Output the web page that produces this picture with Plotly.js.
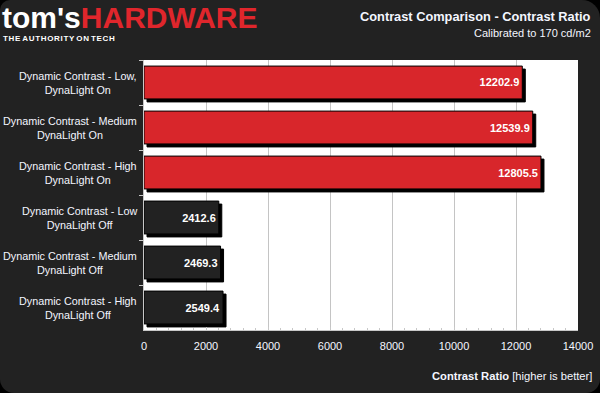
<!DOCTYPE html>
<html>
<head>
<meta charset="utf-8">
<script src="https://cdn.plot.ly/plotly-3.0.1.min.js"></script>
<style>
html,body{margin:0;padding:0;background:#000;}
#wrap{position:absolute;left:0;top:0;width:600px;height:393px;background:#222222;border-radius:10px 18px 14px 14px;overflow:hidden;}
#chart{width:600px;height:393px;}
.barlayer .point path{filter:drop-shadow(3px 3px 0 #000);}
</style>
</head>
<body>
<div id="wrap"><div id="chart"></div></div>
<script>
var categories = [
  "Dynamic Contrast - Low,<br>DynaLight On",
  "Dynamic Contrast - Medium<br>DynaLight On",
  "Dynamic Contrast - High<br>DynaLight On",
  "Dynamic Contrast - Low<br>DynaLight Off",
  "Dynamic Contrast - Medium<br>DynaLight Off",
  "Dynamic Contrast - High<br>DynaLight Off"
];
var contrastValues = [12202.9, 12539.9, 12805.5, 2412.6, 2469.3, 2549.4];
var barColors = ["#d8262b", "#d8262b", "#d8262b", "#222222", "#222222", "#222222"];
var xTickValues = [0, 2000, 4000, 6000, 8000, 10000, 12000, 14000];
var chartTitle = "Contrast Comparison - Contrast Ratio";
var chartSubtitle = "Calibrated to 170 cd/m2";
var axisTitleBold = "Contrast Ratio";
var axisTitleRest = " [higher is better]";

var L = 144, R = 22, T = 60, B = 63, W = 600, H = 393;
var pw = W - L - R, ph = H - T - B;
function px(x){ return (x - L) / pw; }
function py(y){ return (H - B - y) / ph; }

var font = "'Liberation Sans', Arial, sans-serif";
var txt = "#f4f6ff";

var trace = {
  type: "bar",
  orientation: "h",
  y: categories,
  x: contrastValues,
  marker: {color: barColors, line: {color: "#000", width: 1}},
  text: contrastValues.map(function(v){ return "<b>" + v.toFixed(1) + "</b>"; }),
  textposition: "inside",
  insidetextanchor: "end",
  textfont: {family: font, size: 11, color: "#ffffff"},
  hoverinfo: "none",
  cliponaxis: false
};

var annotations = [];
categories.forEach(function(c){
  annotations.push({
    xref: "paper", yref: "y", x: px(139), y: c,
    xanchor: "right", yanchor: "middle", align: "center",
    text: c, showarrow: false,
    font: {family: font, size: 10.8, color: txt}
  });
});
annotations.push({
  xref: "paper", yref: "paper", x: px(593), y: py(16),
  xanchor: "right", yanchor: "middle", text: "<b>" + chartTitle + "</b>",
  showarrow: false, font: {family: font, size: 12.8, color: txt}
});
annotations.push({
  xref: "paper", yref: "paper", x: px(593), y: py(33),
  xanchor: "right", yanchor: "middle", text: chartSubtitle,
  showarrow: false, font: {family: font, size: 11, color: txt}
});
annotations.push({
  xref: "paper", yref: "paper", x: px(594), y: py(376),
  xanchor: "right", yanchor: "middle",
  text: "<b>" + axisTitleBold + "</b>" + axisTitleRest,
  showarrow: false, font: {family: font, size: 11.2, color: txt}
});
// logo
annotations.push({
  xref: "paper", yref: "paper", x: px(0), y: py(17),
  xanchor: "left", yanchor: "middle",
  text: "<b>tom's<span style='color:#e0262c'>HARDWARE</span></b>",
  showarrow: false, font: {family: font, size: 30, color: "#ffffff"}
});
annotations.push({
  xref: "paper", yref: "paper", x: px(1), y: py(38),
  xanchor: "left", yanchor: "middle",
  text: "<b>T H E   A U T H O R I T Y   O N   T E C H</b>".replace(/ /g, "\u200A"),
  showarrow: false, font: {family: font, size: 8, color: "#ffffff"}
});

var layout = {
  width: W, height: H,
  margin: {l: L, r: R, t: T, b: B, pad: 0},
  paper_bgcolor: "rgba(0,0,0,0)",
  plot_bgcolor: "#ffffff",
  showlegend: false,
  bargap: 0.27,
  xaxis: {
    range: [0, 14000],
    tickvals: xTickValues,
    ticktext: xTickValues.map(String),
    showgrid: true, gridcolor: "#c4c4c4", gridwidth: 1,
    zeroline: false,
    showline: true, linecolor: "#c8c8c8", linewidth: 1,
    ticks: "inside", ticklen: 3, tickcolor: "#c8c8c8",
    minor: {dtick: 400, ticks: "inside", ticklen: 2, tickcolor: "#c8c8c8", showgrid: false},
    tickfont: {family: font, size: 11, color: txt},
    ticklabelstandoff: 6,
    fixedrange: true
  },
  yaxis: {
    type: "category",
    autorange: "reversed",
    showticklabels: false,
    tickson: "boundaries",
    ticks: "outside", ticklen: 4, tickcolor: "#c8c8c8",
    showgrid: false, zeroline: false,
    showline: true, linecolor: "#c8c8c8", linewidth: 1,
    fixedrange: true
  },
  annotations: annotations
};

Plotly.newPlot("chart", [trace], layout, {displayModeBar: false, staticPlot: true});
</script>
</body>
</html>
